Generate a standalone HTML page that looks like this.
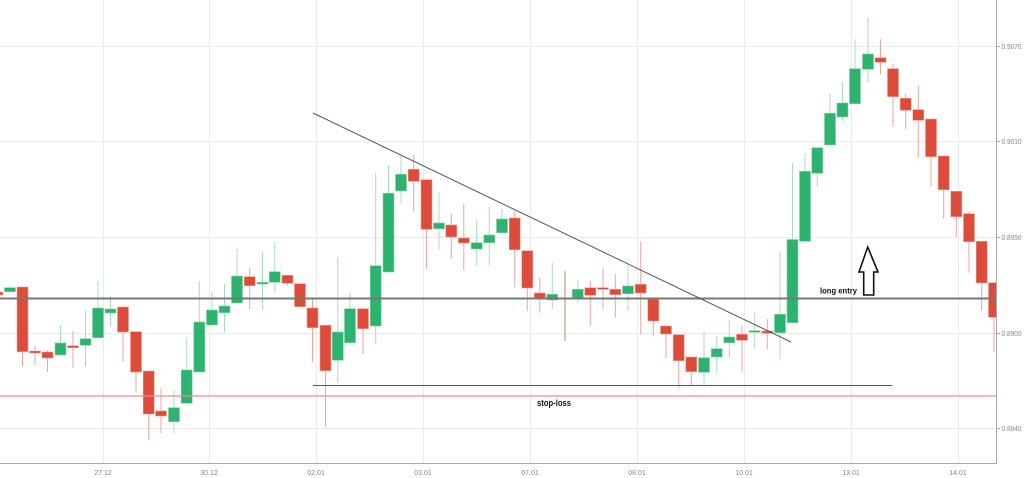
<!DOCTYPE html>
<html><head><meta charset="utf-8"><style>
html,body{margin:0;padding:0;background:#fff;}
svg{display:block;font-family:"Liberation Sans",sans-serif;}
</style></head><body>
<svg width="1024" height="478" viewBox="0 0 1024 478" xmlns="http://www.w3.org/2000/svg">
<rect width="1024" height="478" fill="#fff"/>
<g stroke="#ebebeb" stroke-width="1">
<line x1="103.5" y1="0" x2="103.5" y2="463"/><line x1="209.5" y1="0" x2="209.5" y2="463"/><line x1="316.5" y1="0" x2="316.5" y2="463"/><line x1="423.5" y1="0" x2="423.5" y2="463"/><line x1="530.5" y1="0" x2="530.5" y2="463"/><line x1="637.5" y1="0" x2="637.5" y2="463"/><line x1="744.5" y1="0" x2="744.5" y2="463"/><line x1="851.5" y1="0" x2="851.5" y2="463"/><line x1="958.5" y1="0" x2="958.5" y2="463"/>
<line x1="0" y1="46.5" x2="996" y2="46.5"/><line x1="0" y1="141.5" x2="996" y2="141.5"/><line x1="0" y1="237.5" x2="996" y2="237.5"/><line x1="0" y1="333.5" x2="996" y2="333.5"/><line x1="0" y1="428.5" x2="996" y2="428.5"/>
</g>
<defs><clipPath id="pc"><rect x="0" y="0" width="996" height="463"/></clipPath></defs>
<g clip-path="url(#pc)">
<g stroke-width="1">
<g stroke="#a8ddbf">
<line x1="10" y1="285.7" x2="10" y2="292"/><line x1="60.5" y1="325" x2="60.5" y2="355"/><line x1="85.5" y1="311" x2="85.5" y2="366.7"/><line x1="98" y1="281" x2="98" y2="337.7"/><line x1="110.5" y1="296" x2="110.5" y2="326.7"/><line x1="174" y1="390" x2="174" y2="433"/><line x1="186.7" y1="338" x2="186.7" y2="403"/><line x1="199.3" y1="281" x2="199.3" y2="372"/><line x1="212" y1="291" x2="212" y2="325"/><line x1="224.5" y1="284" x2="224.5" y2="332.7"/><line x1="237" y1="249" x2="237" y2="303"/><line x1="262.5" y1="252.7" x2="262.5" y2="309.3"/><line x1="274.8" y1="242" x2="274.8" y2="292.7"/><line x1="337.8" y1="257.3" x2="337.8" y2="382.7"/><line x1="350" y1="292.7" x2="350" y2="342.7"/><line x1="375.7" y1="173" x2="375.7" y2="344.3"/><line x1="388.5" y1="165" x2="388.5" y2="272"/><line x1="401" y1="155.7" x2="401" y2="203.3"/><line x1="439" y1="192.3" x2="439" y2="250"/><line x1="476.7" y1="219" x2="476.7" y2="265.7"/><line x1="489.3" y1="207.3" x2="489.3" y2="265.7"/><line x1="502" y1="209" x2="502" y2="232.7"/><line x1="552.3" y1="262.3" x2="552.3" y2="309.3"/><line x1="577.8" y1="279.3" x2="577.8" y2="302.7"/><line x1="628" y1="264.3" x2="628" y2="311"/><line x1="704" y1="331.7" x2="704" y2="385"/><line x1="716.7" y1="336" x2="716.7" y2="373.3"/><line x1="729.3" y1="321" x2="729.3" y2="357.7"/><line x1="754.7" y1="312.7" x2="754.7" y2="348.3"/><line x1="780" y1="252.3" x2="780" y2="359.3"/><line x1="792.5" y1="163.3" x2="792.5" y2="322.7"/><line x1="805" y1="153.3" x2="805" y2="241"/><line x1="817.3" y1="147.7" x2="817.3" y2="186.7"/><line x1="830" y1="93.3" x2="830" y2="145"/><line x1="842.5" y1="82.7" x2="842.5" y2="121"/><line x1="855" y1="39.3" x2="855" y2="103.7"/><line x1="868" y1="17.3" x2="868" y2="82.7"/>
</g>
<g stroke="#f0a59c">
<line x1="22.5" y1="287" x2="22.5" y2="366.7"/><line x1="35" y1="345" x2="35" y2="365"/><line x1="47.5" y1="350" x2="47.5" y2="372"/><line x1="73" y1="331" x2="73" y2="367.7"/><line x1="123" y1="307" x2="123" y2="361.7"/><line x1="136" y1="331.7" x2="136" y2="393"/><line x1="148.7" y1="371" x2="148.7" y2="440"/><line x1="161" y1="388" x2="161" y2="433"/><line x1="249.7" y1="267.7" x2="249.7" y2="309"/><line x1="287.5" y1="275" x2="287.5" y2="285.7"/><line x1="312.5" y1="299" x2="312.5" y2="361.7"/><line x1="325.5" y1="325" x2="325.5" y2="426.7"/><line x1="363" y1="308.7" x2="363" y2="354.3"/><line x1="413.7" y1="155" x2="413.7" y2="211.7"/><line x1="426.5" y1="179.7" x2="426.5" y2="269"/><line x1="451.3" y1="214" x2="451.3" y2="259"/><line x1="463.8" y1="204" x2="463.8" y2="270.7"/><line x1="514.7" y1="210.7" x2="514.7" y2="287.3"/><line x1="527.3" y1="250.7" x2="527.3" y2="311"/><line x1="539.8" y1="277.7" x2="539.8" y2="312.7"/><line x1="590.3" y1="281" x2="590.3" y2="326"/><line x1="603" y1="267.7" x2="603" y2="309.3"/><line x1="615.3" y1="274" x2="615.3" y2="317.7"/><line x1="640.7" y1="241.7" x2="640.7" y2="334.3"/><line x1="653.3" y1="297.3" x2="653.3" y2="336"/><line x1="666" y1="326" x2="666" y2="358.3"/><line x1="678.7" y1="334.7" x2="678.7" y2="388.3"/><line x1="691.3" y1="357" x2="691.3" y2="385"/><line x1="742" y1="326" x2="742" y2="371.7"/><line x1="767.3" y1="319" x2="767.3" y2="349.3"/><line x1="880.5" y1="39.3" x2="880.5" y2="74.3"/><line x1="893" y1="64.3" x2="893" y2="126.7"/><line x1="905.7" y1="93.3" x2="905.7" y2="129.3"/><line x1="918.3" y1="86" x2="918.3" y2="157.7"/><line x1="931" y1="119" x2="931" y2="186.7"/><line x1="943.7" y1="156" x2="943.7" y2="218.7"/><line x1="956.3" y1="191.3" x2="956.3" y2="237.3"/><line x1="969" y1="211.7" x2="969" y2="272.7"/><line x1="981.7" y1="241.3" x2="981.7" y2="310.7"/><line x1="994" y1="282.7" x2="994" y2="351.7"/>
</g>
<line x1="565" y1="271" x2="565" y2="341" stroke="#bdb794" stroke-width="1.5"/>
</g>
<g fill="#2db36f" stroke="#7fd1a4" stroke-width="0.6">
<rect x="4.5" y="287.7" width="11" height="4"/><rect x="55" y="343" width="11" height="12"/><rect x="80" y="338.7" width="11" height="6.6"/><rect x="92.5" y="308" width="11" height="29.7"/><rect x="105" y="309" width="11" height="4"/><rect x="168.5" y="407.7" width="11" height="14"/><rect x="181.2" y="370" width="11" height="33.3"/><rect x="193.8" y="322" width="11" height="50"/><rect x="206.5" y="310" width="11" height="15"/><rect x="219" y="306" width="11" height="6.7"/><rect x="231.5" y="276" width="11" height="27"/><rect x="257" y="282.3" width="11" height="1.8"/><rect x="269.3" y="271.7" width="11" height="10.6"/><rect x="332.3" y="332" width="11" height="28.3"/><rect x="344.5" y="308.7" width="11" height="34"/><rect x="370.2" y="265.7" width="11" height="60.3"/><rect x="383" y="193.3" width="11" height="78.7"/><rect x="395.5" y="174.3" width="11" height="16.7"/><rect x="433.5" y="223" width="11" height="5.7"/><rect x="471.2" y="242.7" width="11" height="6.3"/><rect x="483.8" y="235" width="11" height="7.7"/><rect x="496.5" y="219" width="11" height="13.7"/><rect x="546.8" y="294.3" width="11" height="5.7"/><rect x="572.3" y="289.3" width="11" height="8.4"/><rect x="622.5" y="286" width="11" height="7.7"/><rect x="698.5" y="357.7" width="11" height="14.6"/><rect x="711.2" y="348.7" width="11" height="8.3"/><rect x="723.8" y="337" width="11" height="5.7"/><rect x="749.2" y="330.7" width="11" height="1.6"/><rect x="774.5" y="314.3" width="11" height="18.4"/><rect x="787" y="239.5" width="11" height="83.2"/><rect x="799.5" y="171.3" width="11" height="70"/><rect x="811.8" y="147.7" width="11" height="25.6"/><rect x="824.5" y="113.3" width="11" height="31.7"/><rect x="837" y="103" width="11" height="14"/><rect x="849.5" y="68.7" width="11" height="35"/><rect x="862.5" y="54" width="11" height="15.3"/>
</g>
<g fill="#dd4b3a" stroke="#ee9a8f" stroke-width="0.6">
<rect x="-8.1" y="292" width="11" height="3"/><rect x="17" y="287" width="11" height="64.7"/><rect x="29.5" y="351" width="11" height="2"/><rect x="42" y="352" width="11" height="6"/><rect x="67.5" y="345.7" width="11" height="2"/><rect x="117.5" y="307" width="11" height="25"/><rect x="130.5" y="331.7" width="11" height="40.3"/><rect x="143.2" y="371" width="11" height="43"/><rect x="155.5" y="411" width="11" height="5"/><rect x="244.2" y="276.7" width="11" height="9"/><rect x="282" y="275.3" width="11" height="8"/><rect x="294.5" y="283.7" width="11" height="23"/><rect x="307" y="308" width="11" height="19.7"/><rect x="320" y="325.3" width="11" height="45.4"/><rect x="357.5" y="308.7" width="11" height="20"/><rect x="408.2" y="169.3" width="11" height="12"/><rect x="421" y="179.7" width="11" height="49.6"/><rect x="445.8" y="225" width="11" height="12"/><rect x="458.3" y="238" width="11" height="5"/><rect x="509.2" y="218" width="11" height="31.7"/><rect x="521.8" y="250.7" width="11" height="37.3"/><rect x="534.3" y="293" width="11" height="4.7"/><rect x="584.8" y="287.7" width="11" height="7.6"/><rect x="597.5" y="287.7" width="11" height="1.6"/><rect x="609.8" y="289.3" width="11" height="5.4"/><rect x="635.2" y="284.3" width="11" height="8.7"/><rect x="647.8" y="299.3" width="11" height="21.7"/><rect x="660.5" y="326" width="11" height="8"/><rect x="673.2" y="334.7" width="11" height="26"/><rect x="685.8" y="357" width="11" height="14.7"/><rect x="736.5" y="334.3" width="11" height="6"/><rect x="761.8" y="331" width="11" height="2.3"/><rect x="875" y="57.7" width="11" height="4.6"/><rect x="887.5" y="68.7" width="11" height="28"/><rect x="900.2" y="98.3" width="11" height="12"/><rect x="912.8" y="109.7" width="11" height="10.6"/><rect x="925.5" y="119" width="11" height="37.7"/><rect x="938.2" y="156" width="11" height="33.7"/><rect x="950.8" y="191.3" width="11" height="25.4"/><rect x="963.5" y="213.7" width="11" height="28"/><rect x="976.2" y="241.3" width="11" height="41.7"/><rect x="988.5" y="282.7" width="11" height="34.6"/>
</g>
</g>
<line x1="0" y1="298.5" x2="996" y2="298.5" stroke="#777" stroke-width="2"/>
<line x1="0" y1="396" x2="996" y2="396" stroke="#f28a8a" stroke-width="1.2"/>
<line x1="313" y1="385.5" x2="892" y2="385.5" stroke="#555" stroke-width="1"/>
<line x1="313" y1="113" x2="791" y2="342" stroke="#555" stroke-width="1"/>
<path d="M867.7,247 L878,272 L873.7,272 L873.7,295 L863.7,295 L863.7,272 L859,272 Z" fill="#fff" stroke="#111" stroke-width="1.6" stroke-linejoin="miter"/>
<text x="820" y="293.5" font-size="8.5" font-weight="bold" fill="#111" textLength="37" lengthAdjust="spacingAndGlyphs">long entry</text>
<text x="537" y="406" font-size="9" font-weight="bold" fill="#111" textLength="34" lengthAdjust="spacingAndGlyphs">stop-loss</text>
<line x1="996.5" y1="0" x2="996.5" y2="463" stroke="#aaa" stroke-width="1"/>
<line x1="0" y1="463.5" x2="997" y2="463.5" stroke="#aaa" stroke-width="1"/>
<g stroke="#aaa"><line x1="997" y1="46.5" x2="1000" y2="46.5"/><line x1="997" y1="141.5" x2="1000" y2="141.5"/><line x1="997" y1="237.5" x2="1000" y2="237.5"/><line x1="997" y1="333.5" x2="1000" y2="333.5"/><line x1="997" y1="428.5" x2="1000" y2="428.5"/></g>
<g font-size="7" fill="#888">
<text x="1001.5" y="49" textLength="20" lengthAdjust="spacingAndGlyphs">0.9070</text><text x="1001.5" y="144" textLength="20" lengthAdjust="spacingAndGlyphs">0.9010</text><text x="1001.5" y="240" textLength="20" lengthAdjust="spacingAndGlyphs">0.8950</text><text x="1001.5" y="336" textLength="20" lengthAdjust="spacingAndGlyphs">0.8900</text><text x="1001.5" y="431" textLength="20" lengthAdjust="spacingAndGlyphs">0.8840</text>
</g>
<g font-size="7" fill="#888" text-anchor="middle">
<text x="103" y="475">27.12</text><text x="209" y="475">30.12</text><text x="316" y="475">02.01</text><text x="423" y="475">03.01</text><text x="530" y="475">07.01</text><text x="637" y="475">08.01</text><text x="744" y="475">10.01</text><text x="851" y="475">13.01</text><text x="958" y="475">14.01</text>
</g>
</svg>
</body></html>
